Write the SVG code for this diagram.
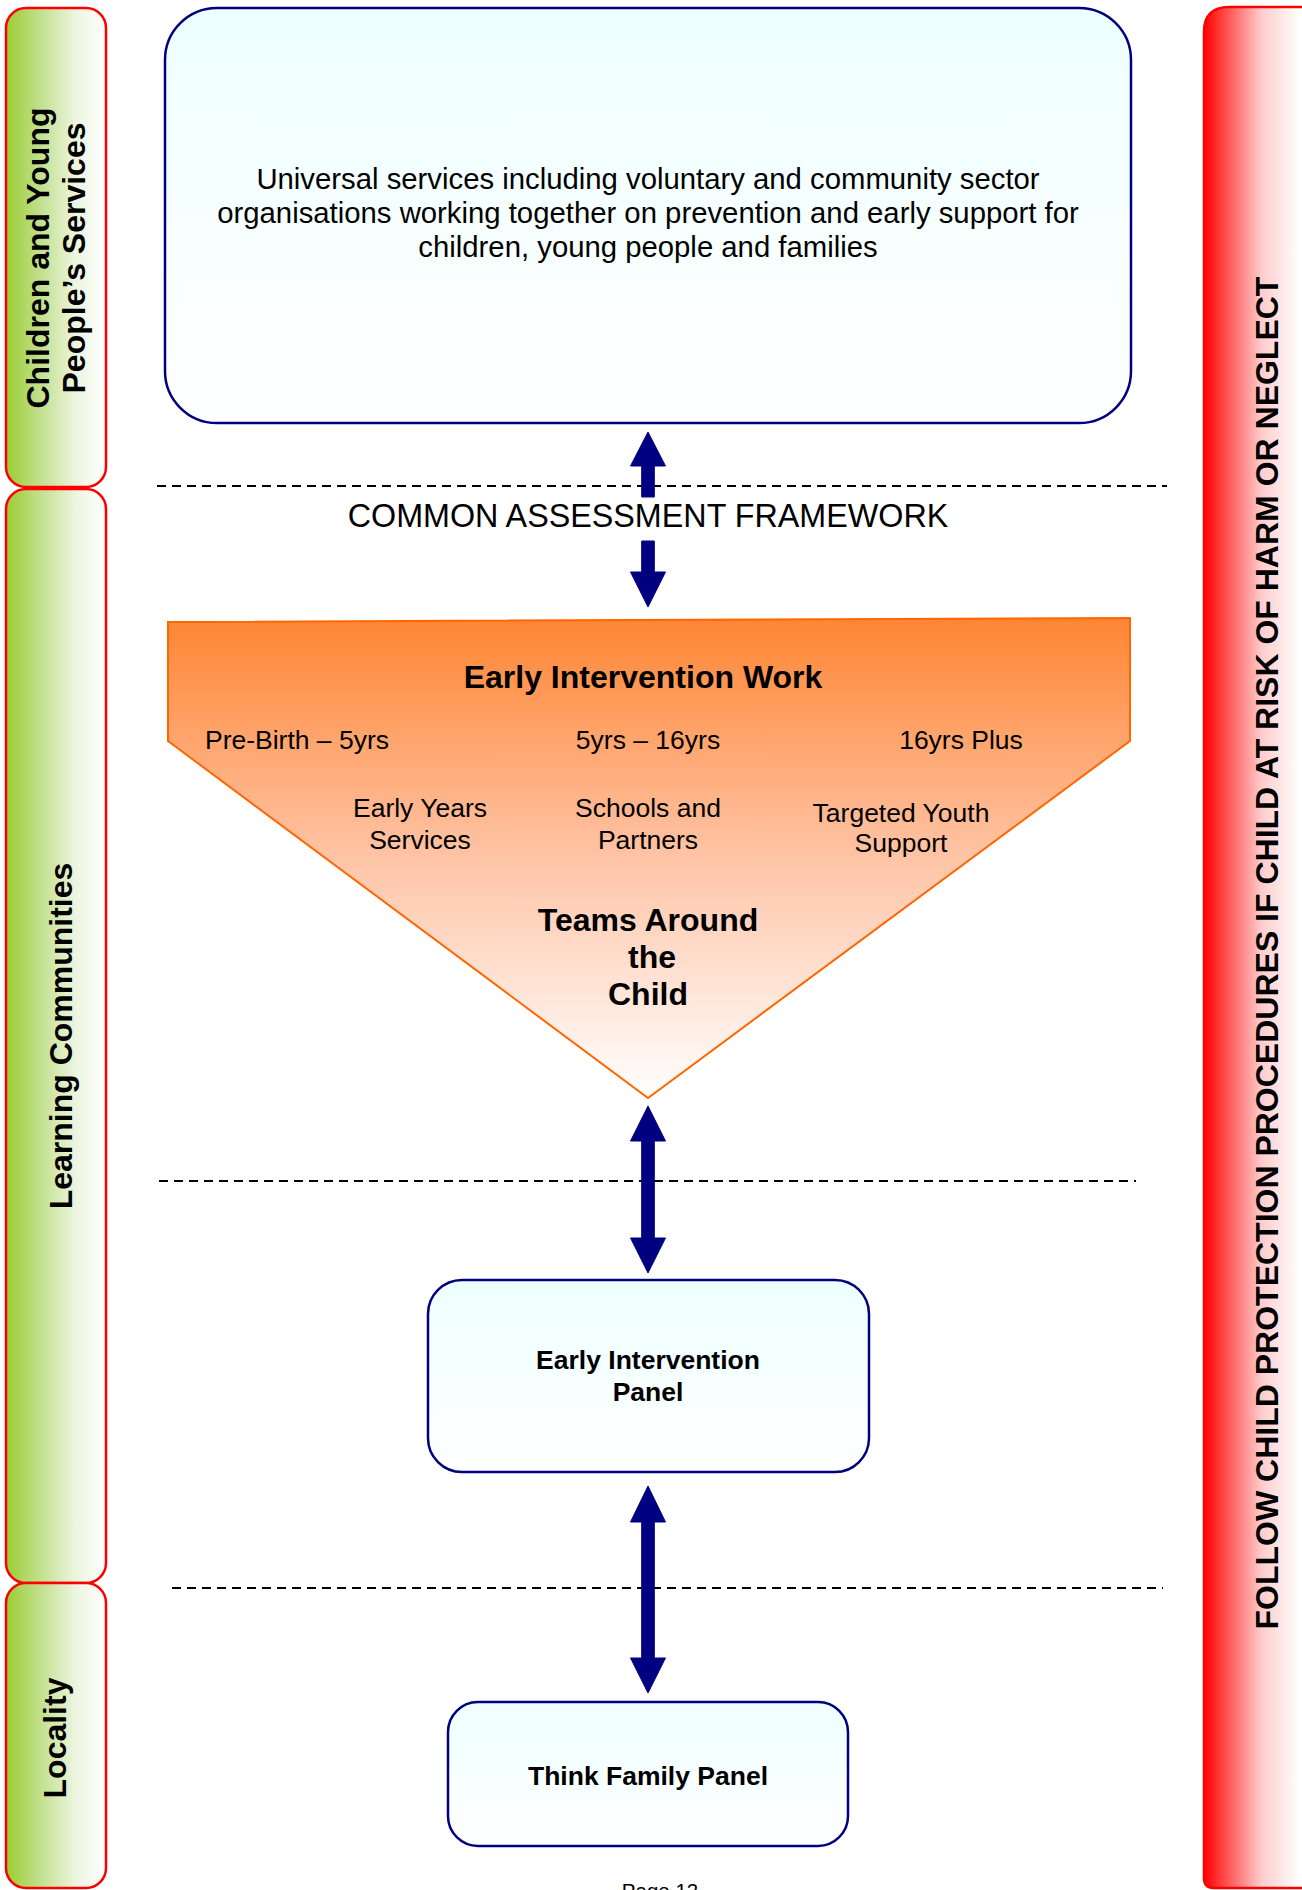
<svg xmlns="http://www.w3.org/2000/svg" width="1302" height="1890" viewBox="0 0 1302 1890">
  <defs>
    <linearGradient id="gGreen" x1="0" y1="0" x2="1" y2="0">
      <stop offset="0" stop-color="#9ACD32"/>
      <stop offset="0.35" stop-color="#C3E08F"/>
      <stop offset="0.7" stop-color="#EDF5E0"/>
      <stop offset="1" stop-color="#FFFFFF"/>
    </linearGradient>
    <linearGradient id="gRed" gradientUnits="userSpaceOnUse" x1="1204" y1="0" x2="1300" y2="0">
      <stop offset="0" stop-color="#FF0000"/>
      <stop offset="0.3" stop-color="#FF6666"/>
      <stop offset="0.6" stop-color="#FFCCCC"/>
      <stop offset="1" stop-color="#FFFFFF"/>
    </linearGradient>
    <linearGradient id="gOrange" gradientUnits="userSpaceOnUse" x1="0" y1="618" x2="0" y2="1098">
      <stop offset="0" stop-color="#FF8533"/>
      <stop offset="0.5" stop-color="#FFC4A6"/>
      <stop offset="1" stop-color="#FFFFFF"/>
    </linearGradient>
    <linearGradient id="gPale" x1="0" y1="0" x2="0" y2="1">
      <stop offset="0" stop-color="#EEFFFF"/>
      <stop offset="1" stop-color="#FFFFFF"/>
    </linearGradient>
  </defs>
  <style>
    text { font-family: "Liberation Sans", Arial, Helvetica, sans-serif; fill: #000; }
    .b { font-weight: bold; }
    .mid { text-anchor: middle; }
    .band { fill: url(#gGreen); stroke: #FF0000; stroke-width: 2.5; }
    .panel { fill: url(#gPale); stroke: #000080; stroke-width: 2.5; }
    .sep { stroke: #000; stroke-width: 2; stroke-dasharray: 9 6; fill: none; }
    .arrow { fill: #000080; stroke: #000080; stroke-width: 1; }
  </style>

  <!-- left-hand level bands -->
  <g id="band-cyps">
    <rect class="band" x="6" y="8" width="100" height="479" rx="20"/>
    <g transform="translate(0,258) rotate(-90)">
      <text class="b mid" x="0" y="49" font-size="32">Children and Young</text>
      <text class="b mid" x="0" y="85" font-size="32">People’s Services</text>
    </g>
  </g>
  <g id="band-learning">
    <rect class="band" x="6" y="489" width="100" height="1094" rx="20"/>
    <text class="b mid" font-size="32" transform="translate(0,1036) rotate(-90)" x="0" y="72">Learning Communities</text>
  </g>
  <g id="band-locality">
    <rect class="band" x="6" y="1583" width="100" height="305" rx="20"/>
    <text class="b mid" font-size="32" transform="translate(0,1738) rotate(-90)" x="0" y="66">Locality</text>
  </g>

  <!-- right-hand child protection band -->
  <g id="band-protection">
    <path d="M1204,1878 L1204,32 Q1204,7 1229,7 L1310,7 L1310,1888 L1214,1888 Q1204,1888 1204,1878 Z" fill="url(#gRed)" stroke="#FF0000" stroke-width="2.5"/>
    <text class="b mid" font-size="32" transform="translate(0,953) rotate(-90)" x="0" y="1278">FOLLOW CHILD PROTECTION PROCEDURES IF CHILD AT RISK OF HARM OR NEGLECT</text>
  </g>

  <!-- level separators -->
  <g id="separators">
    <line class="sep" x1="157" y1="486" x2="1167" y2="486"/>
    <line class="sep" x1="159" y1="1181" x2="1136" y2="1181"/>
    <line class="sep" x1="172" y1="1588" x2="1163" y2="1588"/>
  </g>

  <g id="universal-services">
    <rect class="panel" x="165" y="8" width="966" height="415" rx="52"/>
    <text class="mid" x="648" y="189" font-size="29.3">Universal services including voluntary and community sector</text>
    <text class="mid" x="648" y="223" font-size="29.3">organisations working together on prevention and early support for</text>
    <text class="mid" x="648" y="257" font-size="29.3">children, young people and families</text>
  </g>

  <g id="caf-label">
    <text class="mid" x="648" y="527" font-size="32.3">COMMON ASSESSMENT FRAMEWORK</text>
  </g>

  <g id="early-intervention-work">
    <polygon points="168,622 1130,618 1130,741 648,1098 168,741" fill="url(#gOrange)" stroke="#FF6600" stroke-width="2"/>
    <text class="b mid" x="643" y="688" font-size="32">Early Intervention Work</text>
    <text class="mid" x="297" y="749" font-size="26.5">Pre-Birth – 5yrs</text>
    <text class="mid" x="648" y="749" font-size="26.5">5yrs – 16yrs</text>
    <text class="mid" x="961" y="749" font-size="26.5">16yrs Plus</text>
    <text class="mid" x="420" y="817" font-size="26.5">Early Years</text>
    <text class="mid" x="420" y="849" font-size="26.5">Services</text>
    <text class="mid" x="648" y="817" font-size="26.5">Schools and</text>
    <text class="mid" x="648" y="849" font-size="26.5">Partners</text>
    <text class="mid" x="901" y="822" font-size="26.5">Targeted Youth</text>
    <text class="mid" x="901" y="852" font-size="26.5">Support</text>
    <text class="b mid" x="648" y="931" font-size="32">Teams Around</text>
    <text class="b mid" x="652" y="968" font-size="32">the</text>
    <text class="b mid" x="648" y="1005" font-size="32">Child</text>
  </g>

  <g id="early-intervention-panel">
    <rect class="panel" x="428" y="1280" width="441" height="192" rx="34"/>
    <text class="b mid" x="648" y="1369" font-size="26.5">Early Intervention</text>
    <text class="b mid" x="648" y="1401" font-size="26.5">Panel</text>
  </g>

  <g id="think-family-panel">
    <rect class="panel" x="448" y="1702" width="400" height="144" rx="30"/>
    <text class="b mid" x="648" y="1785" font-size="26.5">Think Family Panel</text>
  </g>

  <!-- two-way links between levels -->
  <g id="connectors">
    <path class="arrow" d="M648,432 L665.5,466 L654.3,466 L654.3,497 L641.7,497 L641.7,466 L630.5,466 Z"/>
    <path class="arrow" d="M641.7,541 L654.3,541 L654.3,572 L665.5,572 L648,607 L630.5,572 L641.7,572 Z"/>
    <path class="arrow" d="M648,1106 L665.5,1141 L654.3,1141 L654.3,1238 L665.5,1238 L648,1273 L630.5,1238 L641.7,1238 L641.7,1141 L630.5,1141 Z"/>
    <path class="arrow" d="M648,1486 L665.5,1522 L654.3,1522 L654.3,1658 L665.5,1658 L648,1693 L630.5,1658 L641.7,1658 L641.7,1522 L630.5,1522 Z"/>
  </g>

  <!-- page footer, running off the bottom edge -->
  <text class="mid" x="660" y="1898" font-size="20.5">Page 12</text>
</svg>
